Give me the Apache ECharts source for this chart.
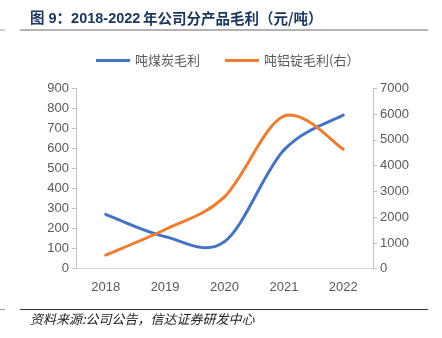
<!DOCTYPE html>
<html><head><meta charset="utf-8">
<script src="https://cdn.jsdelivr.net/npm/echarts@6/dist/echarts.min.js"></script>
<style>html,body{margin:0;padding:0;background:#fff}#c{width:442px;height:338px}</style>
</head><body><div id="c"></div>
<script>
var categories = ['2018','2019','2020','2021','2022'];
var coalProfit = [271, 160, 135, 592, 767];
var aluminumProfit = [530, 1520, 2790, 5920, 4640];
var leftTicks = [0, 900, 100];
var rightTicks = [0, 7000, 1000];

// Smooth (Catmull-Rom style) line segments, positioned through the chart's own axes via api.coord
function smoothRenderer(values, color) {
  return function (params, api) {
    var i = params.dataIndex;
    if (i >= values.length - 1) return null;
    var n = values.length;
    var p = function (k) { k = Math.max(0, Math.min(n - 1, k)); return api.coord([k, values[k]]); };
    var p0 = p(i - 1), p1 = p(i), p2 = p(i + 1), p3 = p(i + 2);
    var t = 1 / 6;
    return {
      type: 'bezierCurve',
      shape: {
        x1: p1[0], y1: p1[1], x2: p2[0], y2: p2[1],
        cpx1: p1[0] + (p2[0] - p0[0]) * t, cpy1: p1[1] + (p2[1] - p0[1]) * t,
        cpx2: p2[0] - (p3[0] - p1[0]) * t, cpy2: p2[1] - (p3[1] - p1[1]) * t
      },
      style: {stroke: color, lineWidth: 3, fill: null, lineCap: 'round'}
    };
  };
}

var chart = echarts.init(document.getElementById('c'));
var cjk = '"Noto Sans CJK SC", "Noto Sans", sans-serif';
var blue = '#4472c4', orange = '#ed7d31';
chart.setOption({
  animation: false,
  textStyle: {fontFamily: 'Arial, "Liberation Sans", ' + cjk},
  graphic: [
    {type: 'text', left: 30, top: 12, style: {text: '图 9：2018-2022', font: 'bold 14.5px "Liberation Sans", "Noto Sans CJK SC", sans-serif', fill: '#1b365d'}},
    {type: 'text', left: 143, top: 11, style: {text: '年公司分产品毛利（元/吨）', font: 'bold 14.5px "Noto Sans CJK SC", sans-serif', fill: '#1b365d'}},
    {type: 'line', shape: {x1: 20, y1: 30, x2: 428, y2: 30}, style: {stroke: '#9a9a9a', lineWidth: 1.5}},
    {type: 'line', shape: {x1: 0, y1: 30, x2: 5, y2: 30}, style: {stroke: '#9a9a9a', lineWidth: 1}},
    {type: 'line', shape: {x1: 20, y1: 309.5, x2: 428, y2: 309.5}, style: {stroke: '#333', lineWidth: 1}},
    {type: 'line', shape: {x1: 0, y1: 309.5, x2: 5, y2: 309.5}, style: {stroke: '#9a9a9a', lineWidth: 1}},
    {type: 'text', left: 30, top: 313, style: {text: '资料来源:公司公告，信达证券研发中心', font: 'italic 13px "Noto Sans CJK SC", sans-serif', fill: '#222'}}
  ],
  legend: {
    top: 49, left: 91, itemWidth: 34, itemHeight: 3, itemGap: 25,
    icon: 'rect',
    textStyle: {color: '#595959', fontSize: 13, fontFamily: cjk},
    data: [{name: '吨煤炭毛利', itemStyle: {color: blue}}, {name: '吨铝锭毛利(右）', itemStyle: {color: orange}}]
  },
  grid: {left: 76, right: 69, top: 88.3, bottom: 69.3},
  xAxis: {
    type: 'category', data: categories, boundaryGap: true,
    axisLine: {lineStyle: {color: '#d9d9d9'}}, axisTick: {show: false},
    axisLabel: {color: '#595959', fontSize: 13, margin: 12}
  },
  yAxis: [
    {type: 'value', min: leftTicks[0], max: leftTicks[1], interval: leftTicks[2],
     axisLine: {show: true, lineStyle: {color: '#bfbfbf'}},
     axisTick: {show: true, length: 4, lineStyle: {color: '#bfbfbf'}},
     splitLine: {show: false},
     axisLabel: {color: '#595959', fontSize: 13, margin: 7, formatter: function (v) { return String(v); }}},
    {type: 'value', min: rightTicks[0], max: rightTicks[1], interval: rightTicks[2], position: 'right',
     axisLine: {show: true, lineStyle: {color: '#bfbfbf'}},
     axisTick: {show: true, length: 4, lineStyle: {color: '#bfbfbf'}},
     splitLine: {show: false},
     axisLabel: {color: '#595959', fontSize: 13, margin: 7, formatter: function (v) { return String(v); }}}
  ],
  series: [
    {name: '吨煤炭毛利', type: 'custom', data: coalProfit.map(function (v, i) { return [i, v]; }),
     encode: {x: 0, y: 1}, itemStyle: {color: blue}, renderItem: smoothRenderer(coalProfit, blue)},
    {name: '吨铝锭毛利(右）', type: 'custom', yAxisIndex: 1, data: aluminumProfit.map(function (v, i) { return [i, v]; }),
     encode: {x: 0, y: 1}, itemStyle: {color: orange}, renderItem: smoothRenderer(aluminumProfit, orange)}
  ]
});
</script></body></html>
